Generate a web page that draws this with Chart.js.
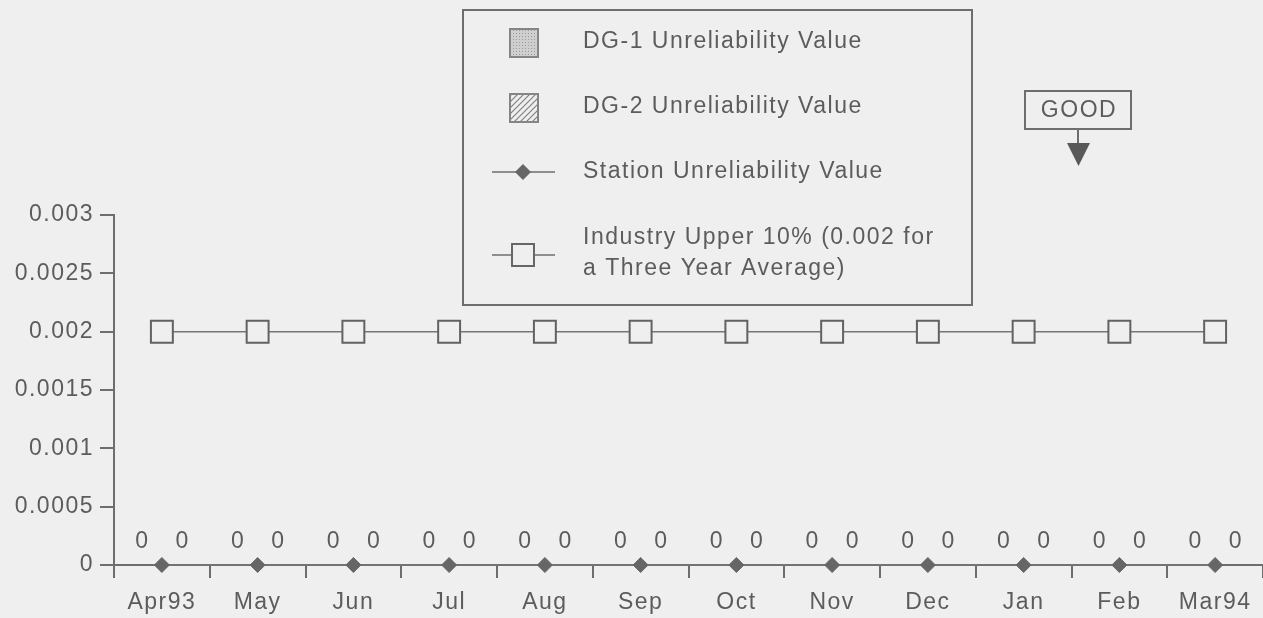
<!DOCTYPE html>
<html>
<head>
<meta charset="utf-8">
<script src="https://cdn.jsdelivr.net/npm/chart.js@4"></script>
<style>
  html, body { margin: 0; padding: 0; background: #efefef; }
  #wrap { position: relative; width: 1263px; height: 618px; }
</style>
</head>
<body>
<div id="wrap"><canvas id="c"></canvas></div>
<script>
// ---- data ----
const months = ['Apr93','May','Jun','Jul','Aug','Sep','Oct','Nov','Dec','Jan','Feb','Mar94'];
const dg1Values = [0,0,0,0,0,0,0,0,0,0,0,0];
const dg2Values = [0,0,0,0,0,0,0,0,0,0,0,0];
const stationValues = [0,0,0,0,0,0,0,0,0,0,0,0];
const industryValues = [0.002,0.002,0.002,0.002,0.002,0.002,0.002,0.002,0.002,0.002,0.002,0.002];
const yTickLabels = ['0','0.0005','0.001','0.0015','0.002','0.0025','0.003'];
const legendLabels = ['DG-1 Unreliability Value','DG-2 Unreliability Value','Station Unreliability Value',['Industry Upper 10% (0.002 for','a Three Year Average)']];
const goodLabel = 'GOOD';

const BG = '#efefef';
const INK = '#5c5c5c';
const LINE = '#6e6e6e';
const FONT = '"Liberation Sans", Arial, sans-serif';

function makePattern(kind) {
  const p = document.createElement('canvas');
  p.width = 6; p.height = 6;
  const g = p.getContext('2d');
  if (kind === 'dots') {
    g.fillStyle = '#cfcfcf'; g.fillRect(0,0,6,6);
    g.fillStyle = '#9a9a9a';
    g.fillRect(0,0,1,1); g.fillRect(3,3,1,1); g.fillRect(3,0,1,1); g.fillRect(0,3,1,1);
  } else {
    g.fillStyle = BG; g.fillRect(0,0,6,6);
    g.strokeStyle = '#808080'; g.lineWidth = 1.2;
    g.beginPath(); g.moveTo(0,6); g.lineTo(6,0); g.moveTo(-3,3); g.lineTo(3,-3); g.moveTo(3,9); g.lineTo(9,3); g.stroke();
  }
  return document.getElementById('c').getContext('2d').createPattern(p, 'repeat');
}
const dotPat = makePattern('dots');
const hatchPat = makePattern('hatch');

Chart.defaults.font.family = FONT;
Chart.defaults.font.size = 23;
Chart.defaults.color = INK;

const spacingPlugin = {
  id: 'spacing',
  beforeDraw(chart) {
    const ctx = chart.ctx;
    ctx.save();
    ctx.fillStyle = BG;
    ctx.fillRect(0, 0, chart.width, chart.height);
    ctx.restore();
    ctx.letterSpacing = '1.5px';
  }
};

const barLabelPlugin = {
  id: 'barLabels',
  afterDatasetsDraw(chart) {
    const ctx = chart.ctx;
    ctx.save();
    ctx.letterSpacing = '0px';
    ctx.font = '23px ' + FONT;
    ctx.fillStyle = INK;
    ctx.textAlign = 'center';
    ctx.textBaseline = 'middle';
    [0, 1].forEach(di => {
      const meta = chart.getDatasetMeta(di);
      const vals = chart.data.datasets[di].data;
      meta.data.forEach((el, i) => {
        ctx.fillText(String(vals[i]), el.x, el.y - 23);
      });
    });
    ctx.restore();
  }
};

const decorPlugin = {
  id: 'decor',
  afterDraw(chart) {
    const ctx = chart.ctx;
    ctx.save();
    ctx.letterSpacing = '1.5px';
    ctx.font = '23px ' + FONT;
    ctx.fillStyle = INK;
    ctx.textBaseline = 'middle';
    ctx.textAlign = 'left';
    // legend frame
    ctx.strokeStyle = LINE; ctx.lineWidth = 2;
    ctx.strokeRect(463, 10, 509, 295);
    // DG-1 symbol
    ctx.fillStyle = dotPat; ctx.fillRect(510, 29, 28, 28);
    ctx.strokeStyle = '#858585'; ctx.lineWidth = 2; ctx.strokeRect(510, 29, 28, 28);
    // DG-2 symbol
    ctx.fillStyle = hatchPat; ctx.fillRect(510, 94, 28, 28);
    ctx.strokeRect(510, 94, 28, 28);
    // Station symbol
    ctx.strokeStyle = LINE; ctx.lineWidth = 1.5;
    ctx.beginPath(); ctx.moveTo(492, 172); ctx.lineTo(555, 172); ctx.stroke();
    ctx.fillStyle = '#666666';
    ctx.beginPath(); ctx.moveTo(515, 172); ctx.lineTo(523, 164); ctx.lineTo(531, 172); ctx.lineTo(523, 180); ctx.closePath(); ctx.fill();
    // Industry symbol
    ctx.beginPath(); ctx.moveTo(492, 255); ctx.lineTo(555, 255); ctx.stroke();
    ctx.fillStyle = BG; ctx.fillRect(512, 244, 22, 22);
    ctx.strokeStyle = '#666666'; ctx.lineWidth = 2; ctx.strokeRect(512, 244, 22, 22);
    // legend text
    ctx.fillStyle = INK;
    ctx.fillText(legendLabels[0], 583, 42);
    ctx.fillText(legendLabels[1], 583, 107);
    ctx.fillText(legendLabels[2], 583, 172);
    ctx.fillText(legendLabels[3][0], 583, 238);
    ctx.fillText(legendLabels[3][1], 583, 269);
    // GOOD box
    ctx.strokeStyle = LINE; ctx.lineWidth = 2;
    ctx.strokeRect(1025, 91, 106, 38);
    ctx.textAlign = 'center';
    ctx.fillText(goodLabel, 1079, 111);
    ctx.beginPath(); ctx.moveTo(1078, 129); ctx.lineTo(1078, 146); ctx.stroke();
    ctx.fillStyle = '#595959';
    ctx.beginPath(); ctx.moveTo(1067, 143); ctx.lineTo(1090, 143); ctx.lineTo(1078.5, 166); ctx.closePath(); ctx.fill();
    ctx.restore();
  }
};

new Chart(document.getElementById('c'), {
  type: 'bar',
  data: {
    labels: months,
    datasets: [
      { type: 'bar', label: 'DG-1 Unreliability Value', data: dg1Values, backgroundColor: dotPat, borderWidth: 0, categoryPercentage: 0.84, barPercentage: 0.8, order: 3 },
      { type: 'bar', label: 'DG-2 Unreliability Value', data: dg2Values, backgroundColor: hatchPat, borderWidth: 0, categoryPercentage: 0.84, barPercentage: 0.8, order: 3 },
      { type: 'line', label: 'Station Unreliability Value', data: stationValues, borderColor: '#767676', borderWidth: 1.5, clip: false,
        pointStyle: 'rectRot', pointRadius: 7.5, pointBackgroundColor: '#666666', pointBorderColor: '#666666', pointBorderWidth: 1, order: 1 },
      { type: 'line', label: 'Industry Upper 10%', data: industryValues, borderColor: '#767676', borderWidth: 1.5, clip: false,
        pointStyle: 'rect', pointRadius: 15.5, pointBackgroundColor: BG, pointBorderColor: '#626262', pointBorderWidth: 2, order: 2 }
    ]
  },
  options: {
    responsive: true,
    maintainAspectRatio: false,
    animation: false,
    events: [],
    layout: { autoPadding: false, padding: { top: 215, right: 0, bottom: 0, left: 0 } },
    plugins: { legend: { display: false }, tooltip: { enabled: false } },
    scales: {
      x: {
        offset: true,
        grid: { offset: true, drawOnChartArea: false, drawTicks: true, tickLength: 13, color: LINE, lineWidth: 2 },
        border: { display: true, color: LINE, width: 2 },
        ticks: { padding: 11, color: INK, font: { size: 23 }, maxRotation: 0, autoSkip: false },
        afterFit(s) { s.height = 53; s.paddingLeft = 0; s.paddingRight = 0; }
      },
      y: {
        min: 0, max: 0.003,
        afterBuildTicks(s) { s.ticks = yTickLabels.map(t => ({ value: parseFloat(t) })); },
        grid: { drawOnChartArea: false, drawTicks: true, tickLength: 14, color: LINE, lineWidth: 2 },
        border: { display: true, color: LINE, width: 2 },
        ticks: { padding: 6, color: INK, font: { size: 23 }, callback: (v, i) => yTickLabels[i] },
        afterFit(s) { s.width = 114; s.paddingTop = 0; s.paddingBottom = 0; }
      }
    }
  },
  plugins: [spacingPlugin, barLabelPlugin, decorPlugin]
});
</script>
</body>
</html>
